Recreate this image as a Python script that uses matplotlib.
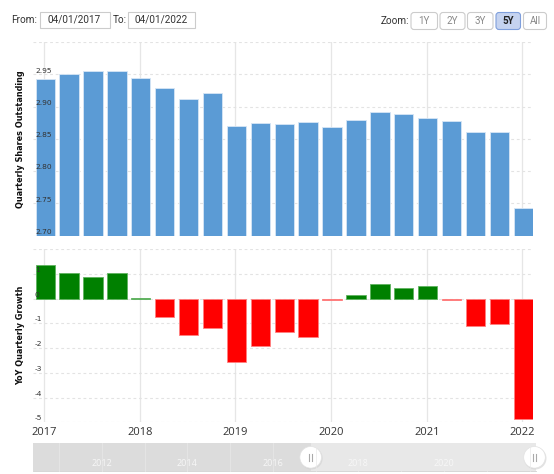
import numpy as np
import pandas as pd
import matplotlib
matplotlib.use("Agg")
import matplotlib.pyplot as plt
import matplotlib.transforms as mtransforms
from matplotlib.patches import Rectangle, FancyBboxPatch, Circle

#%% dados
quarters = ["2017Q1", "2017Q2", "2017Q3", "2017Q4",
            "2018Q1", "2018Q2", "2018Q3", "2018Q4",
            "2019Q1", "2019Q2", "2019Q3", "2019Q4",
            "2020Q1", "2020Q2", "2020Q3", "2020Q4",
            "2021Q1", "2021Q2", "2021Q3", "2021Q4",
            "2022Q1"]
shares = [2.943, 2.950, 2.955, 2.955, 2.944, 2.929, 2.912, 2.921,
          2.869, 2.874, 2.873, 2.876, 2.868, 2.879, 2.891, 2.888,
          2.882, 2.877, 2.860, 2.860, 2.742]
growth = [1.34, 1.03, 0.85, 1.05, 0.03, -0.74, -1.48, -1.20,
          -2.58, -1.91, -1.35, -1.55, -0.06, 0.15, 0.60, 0.43,
          0.50, -0.08, -1.13, -1.01, -4.87]
top_ticks = [2.70, 2.75, 2.80, 2.85, 2.90, 2.95]
bottom_ticks = [1, 0, -1, -2, -3, -4, -5]
year_ticks = [2017, 2018, 2019, 2020, 2021, 2022]
nav_years = [2012, 2014, 2016, 2018, 2020]
zoom_buttons = ["1Y", "2Y", "3Y", "5Y", "All"]

# posicao decimal de cada trimestre
per = pd.PeriodIndex(quarters, freq="Q")
xpos = np.array(per.year + (per.quarter - 1) / 4.0) + 0.01

W, H = 554, 474
fig = plt.figure(figsize=(W / 100, H / 100), dpi=100)

def frac(x0, y0, x1, y1):
    # pixel box (y de cima para baixo) -> fracoes da figura
    return [x0 / W, 1 - y1 / H, (x1 - x0) / W, (y1 - y0) / H]

xlim = (2016.882, 2022.112)
grid_c = "#e3e3e3"
txt_c = "#333333"

ax1 = fig.add_axes(frac(33, 42, 533, 235.5))
ax2 = fig.add_axes(frac(33, 249, 533, 422.3))

for ax in (ax1, ax2):
    ax.set_xlim(*xlim)
    for s in ax.spines.values():
        s.set_visible(False)
    ax.set_yticks([])
    ax.set_xticks([])
    for yr in year_ticks:
        ax.axvline(yr, color="#e6e6e6", lw=0.9, zorder=0)

# painel de cima
ax1.set_ylim(2.70, 3.00)
for v in np.arange(2.70, 3.001, 0.05):
    ax1.axhline(v, color=grid_c, lw=0.8, dashes=(2.5, 2.5), zorder=0.5)
ax1.bar(xpos, np.array(shares) - 2.70, bottom=2.70, width=0.202,
        color="#5b9bd5", edgecolor="#d6e6f5", linewidth=0.6, zorder=2)
tr1 = mtransforms.blended_transform_factory(ax1.transAxes, ax1.transData)
for v in top_ticks:
    ax1.annotate(f"{v:.2f}", xy=(0, v), xycoords=tr1, xytext=(1.6, 2.6),
                 textcoords="offset points", ha="left", va="center",
                 fontsize=5.4, color=txt_c, zorder=5)
ax1.text(-0.025, 0.5, "Quarterly Shares Outstanding", transform=ax1.transAxes,
         rotation=90, ha="center", va="center", fontsize=5.9,
         fontweight="bold", color="#111111")

# painel de baixo
ax2.set_ylim(-5, 2)
for v in range(-5, 3):
    ax2.axhline(v, color=grid_c, lw=0.8, dashes=(2.5, 2.5), zorder=0.5)
cores = ["#008000" if g >= 0 else "#ff0000" for g in growth]
bordas = ["#5fb35f" if g >= 0 else "#ff8080" for g in growth]
ax2.bar(xpos, growth, width=0.202, color=cores, edgecolor=bordas,
        linewidth=0.6, zorder=2)
tr2 = mtransforms.blended_transform_factory(ax2.transAxes, ax2.transData)
for v in bottom_ticks:
    ax2.annotate(f"{v}", xy=(0, v), xycoords=tr2, xytext=(1.4, 2.8),
                 textcoords="offset points", ha="left", va="center",
                 fontsize=5.4, color=txt_c, zorder=5)
ax2.text(-0.025, 0.5, "YoY Quarterly Growth", transform=ax2.transAxes,
         rotation=90, ha="center", va="center", fontsize=5.9,
         fontweight="bold", color="#111111")
ax2.set_xticks(year_ticks)
ax2.set_xticklabels([str(y) for y in year_ticks], fontsize=8,
                    family="Open Sans", color=txt_c)
ax2.tick_params(axis="x", length=0, pad=3.5)

#%% camada de interface (cabecalho e navegador) em pixels
ui = fig.add_axes([0, 0, 1, 1], zorder=10)
ui.set_xlim(0, W)
ui.set_ylim(H, 0)
ui.axis("off")
ui.patch.set_alpha(0)

hf = dict(family="Roboto", fontsize=7.2, color=txt_c, va="center")
ui.text(11.5, 19.5, "From:", ha="left", **hf)
ui.add_patch(Rectangle((39.5, 11.5), 70, 16.5, fc="white", ec="#cccccc", lw=0.8))
ui.text(74.5, 19.5, "04/01/2017", ha="center", **hf)
ui.text(112.5, 19.5, "To:", ha="left", **hf)
ui.add_patch(Rectangle((127.5, 11.5), 67, 16.5, fc="white", ec="#cccccc", lw=0.8))
ui.text(161, 19.5, "04/01/2022", ha="center", **hf)

ui.text(381, 20.5, "Zoom:", ha="left", **hf)
bx = [411, 440, 467.5, 496, 523.5]
bw = [26.5, 25, 25.5, 24.5, 23]
for lab, x0, w in zip(zoom_buttons, bx, bw):
    sel = lab == "5Y"
    ui.add_patch(FancyBboxPatch((x0, 12.5), w, 17, boxstyle="round,pad=0,rounding_size=3",
                                fc="#c5d3f0" if sel else "white",
                                ec="#7f9fdc" if sel else "#cccccc", lw=0.8))
    ui.text(x0 + w / 2, 21, lab, ha="center", va="center", family="Roboto",
            fontsize=7, color="#222222" if sel else "#888888",
            fontweight="bold" if sel else "normal")

# navegador
nav_x0, nav_x1 = 33, 535.7
nav_y0, nav_y1 = 442.7, 471
px_ano = 42.8
def nav_px(ano):
    return 101.7 + (ano - 2012) * px_ano
hx0 = nav_px(xlim[0])
hx1 = nav_px(xlim[1])
ui.add_patch(Rectangle((nav_x0, nav_y0), hx0 - nav_x0, nav_y1 - nav_y0,
                       fc="#dcdcdc", ec="none"))
ui.add_patch(Rectangle((hx0, nav_y0), nav_x1 - hx0, nav_y1 - nav_y0,
                       fc="#e8e8e8", ec="none"))
ui.plot([nav_x0, nav_x1], [nav_y1, nav_y1], color="#d0d0d0", lw=0.6)
for yr in range(2011, 2023):
    xx = nav_px(yr)
    if nav_x0 < xx < nav_x1:
        ui.plot([xx, xx], [nav_y0, nav_y1], color="#e9e9e9", lw=0.6, alpha=0.8)
for yr in nav_years:
    ui.text(nav_px(yr), 464, str(yr), ha="center", va="center", family="Open Sans",
            fontsize=6.5, color="#f7f7f7")
for hx in (hx0, hx1):
    ui.add_patch(Circle((hx + 0.8, 458.3), 11.2, fc="#d0d0d0", ec="none", alpha=0.6))
    ui.add_patch(Circle((hx, 457.3), 10.8, fc="white", ec="#e2e2e2", lw=0.5))
    for dx in (-1.3, 1.3):
        ui.plot([hx + dx, hx + dx], [453.5, 461], color="#aaaaaa", lw=0.8)

fig.savefig("out.png", dpi=100, facecolor="white")
